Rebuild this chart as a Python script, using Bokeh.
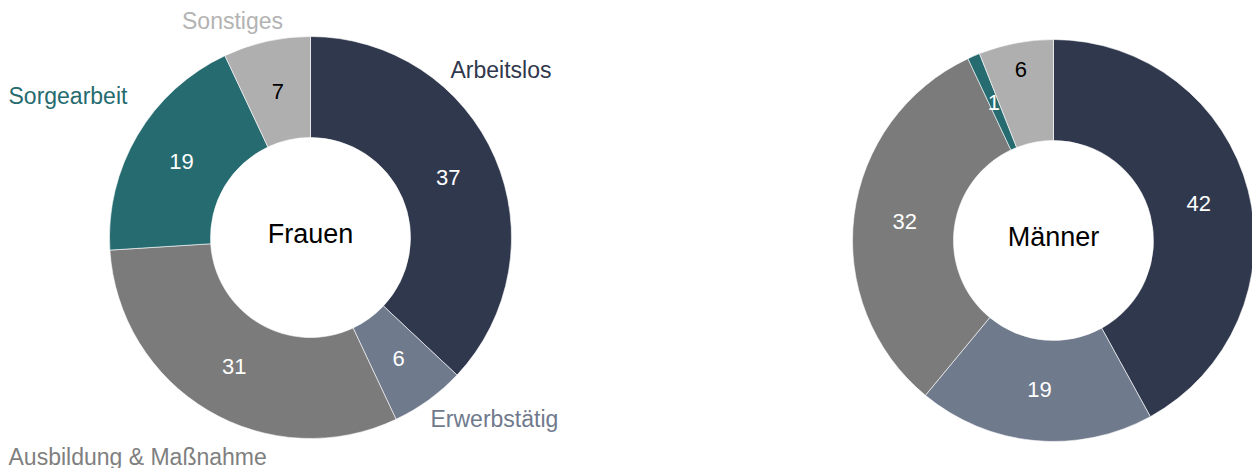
import math
from bokeh.plotting import figure
from bokeh.models import ColumnDataSource, Range1d
from bokeh.core.properties import value
from bokeh.embed import file_html
from bokeh.resources import INLINE

# ---------------- data ----------------
categories = ["Arbeitslos", "Erwerbstätig", "Ausbildung & Maßnahme", "Sorgearbeit", "Sonstiges"]
frauen = [37, 6, 31, 19, 7]
maenner = [42, 19, 32, 1, 6]
titles = ["Frauen", "Männer"]

# ---------------- styles / layout ----------------
colors = ["#30384d", "#707a8d", "#7b7b7b", "#256b70", "#afafaf"]
label_colors = ["#30384d", "#707a8d", "#7f7f7f", "#256b70", "#b3b3b3"]
value_colors = ["white", "white", "white", "white", "black"]
FONT = value("Liberation Sans")

W, H = 1252, 468
R_OUT, R_IN = 201, 100
centers = [(310, 231), (1053, 228)]
# radial position of the value labels (per slice), per donut
value_r = [[150, 150, 150, 150, 150], [150, 150, 150, 150, 174]]
# category label anchors, offsets from the left donut centre (dx, dy up), alignment
cat_offsets = [(140, 168), (120, -181), (-302, -219), (-302, 142), (-78, 217)]
cat_align = ["left", "left", "left", "left", "center"]

p = figure(width=W, height=H, x_range=Range1d(0, W), y_range=Range1d(0, H),
           output_backend="svg", toolbar_location=None, min_border=0)
p.axis.visible = False
p.grid.visible = False
p.outline_line_color = None
p.background_fill_color = "white"
p.border_fill_color = "white"


def donut(vals, cx, cy, rads, title, show_cats):
    total = float(sum(vals))
    starts, ends, mids = [], [], []
    cum = 0.0
    for v in vals:
        a0 = math.pi / 2 - 2 * math.pi * cum / total
        cum += v
        a1 = math.pi / 2 - 2 * math.pi * cum / total
        starts.append(a0)
        ends.append(a1)
        mids.append((a0 + a1) / 2)
    src = ColumnDataSource(dict(
        x=[cx] * len(vals), y=[cy] * len(vals), start=starts, end=ends, color=colors,
    ))
    p.annular_wedge(x="x", y="y", inner_radius=R_IN, outer_radius=R_OUT,
                    start_angle="start", end_angle="end", direction="clock",
                    fill_color="color", line_color="white", line_width=0.6,
                    source=src)
    vsrc = ColumnDataSource(dict(
        x=[cx + r * math.cos(m) for m, r in zip(mids, rads)],
        y=[cy + r * math.sin(m) for m, r in zip(mids, rads)],
        text=[str(v) for v in vals],
        color=value_colors,
    ))
    p.text(x="x", y="y", text="text", text_color="color", text_font=FONT,
           text_font_size=value("22px"), text_align="center",
           text_baseline="middle", source=vsrc)
    p.text(x=[cx], y=[cy + 4], text=[title], text_color="black", text_font=FONT,
           text_font_size=value("27px"), text_align="center",
           text_baseline="middle")
    if show_cats:
        for cat, col, (dx, dy), al in zip(categories, label_colors, cat_offsets, cat_align):
            p.text(x=[cx + dx], y=[cy + dy], text=[cat], text_color=col,
                   text_font=FONT, text_font_size=value("23px"),
                   text_align=al, text_baseline="middle")


donut(frauen, centers[0][0], centers[0][1], value_r[0], titles[0], True)
donut(maenner, centers[1][0], centers[1][1], value_r[1], titles[1], False)

open("out.html", "w").write(file_html(p, INLINE))
